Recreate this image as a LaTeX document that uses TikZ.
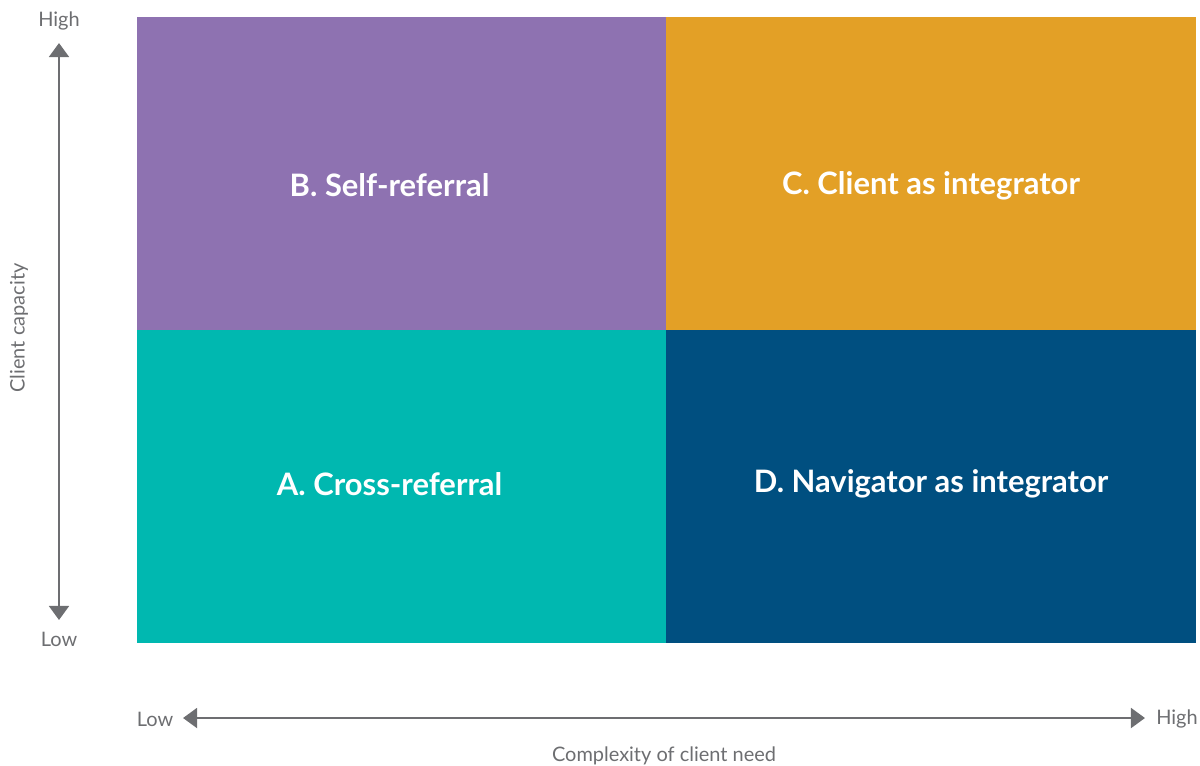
\documentclass[tikz,border=0pt]{standalone}
\usepackage{fontspec}
\setmainfont{Lato}
\usetikzlibrary{arrows.meta}
\usetikzlibrary{positioning}

\definecolor{quadPurple}{HTML}{8E72B1}
\definecolor{quadOrange}{HTML}{E3A026}
\definecolor{quadTeal}{HTML}{00B8B0}
\definecolor{quadNavy}{HTML}{004F80}
\definecolor{axisGray}{HTML}{6D6E71}

\tikzset{
  quadlabel/.style={font=\fontsize{22}{26}\selectfont\bfseries,text=white,anchor=center},
  axislabel/.style={font=\fontsize{14.2}{17}\selectfont,text=axisGray},
  axisline/.style={axisGray,line width=2.1pt,{Triangle[width=14pt,length=10pt]}-{Triangle[width=14pt,length=10pt]}}
}

\begin{document}
\begin{tikzpicture}[x=0.025cm,y=-0.025cm]
\useasboundingbox (0,0) rectangle (1200,765);
% quadrants
\draw[fill=quadPurple,draw=none] (137,17) rectangle (666,330) node[midway,quadlabel,xshift=-8.5,yshift=-8.5] (B) {B. Self-referral};
\draw[fill=quadOrange,draw=none] (666,17) rectangle (1196,330) node[midway,quadlabel,yshift=-8.5] (C) {C. Client as integrator};
\draw[fill=quadTeal,draw=none] (137,330) rectangle (666,643) node[midway,quadlabel,xshift=-8.5,yshift=2] (A) {A. Cross-referral};
\draw[fill=quadNavy,draw=none] (666,330) rectangle (1196,643) node[midway,quadlabel,yshift=2] (D) {D. Navigator as integrator};

% vertical axis
\node[axislabel] (yHigh) at (59,21) {High};
\node[axislabel] (yLow) at (59,639) {Low};
\node[axislabel,rotate=90] (yTitle) at (19,328) {Client capacity};
\coordinate (yTop) at (59,43);
\coordinate (yBot) at (59,620);
\draw[axisline] (yBot) -- (yTop);

% horizontal axis
\node[axislabel] (xLow) at (155,719) {Low};
\node[axislabel] (xHigh) at (1177,719) {High};
\node[axislabel] (xTitle) at (664,756) {Complexity of client need};
\coordinate (xLeft) at (183,718);
\coordinate (xRight) at (1145,718);
\draw[axisline] (xLeft) -- (xRight);

\end{tikzpicture}
\end{document}
